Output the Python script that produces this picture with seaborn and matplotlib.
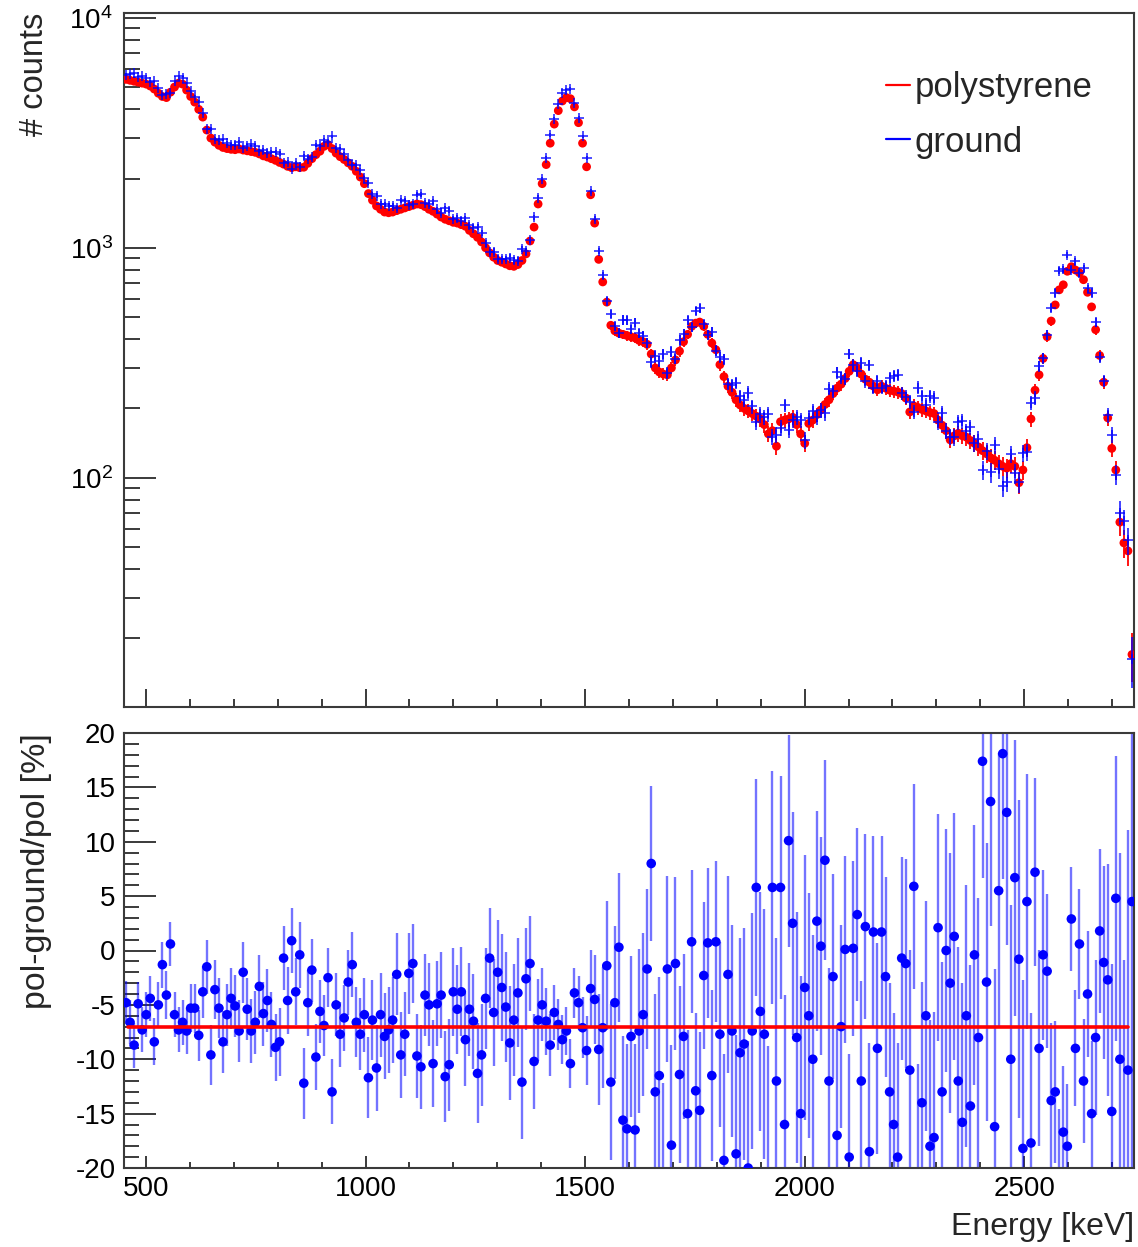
import numpy as np
import matplotlib
matplotlib.use("Agg")
import matplotlib.pyplot as plt
from matplotlib.lines import Line2D
from matplotlib.ticker import MultipleLocator, LogLocator, NullFormatter
import seaborn as sns

# Histogram binning of the energy axis (keV)
E_MIN, E_MAX, N_BINS = 450.0, 2750.0, 250

# Polystyrene spectrum: counts per bin (rows of 10 bins, 92 keV each)
polystyrene_counts = [
    5400, 5350, 5300, 5250, 5200, 5150, 5050, 4900, 4700, 4550,
    4500, 4750, 5000, 5200, 5150, 4850, 4550, 4300, 4000, 3700,
    3250, 3000, 2880, 2790, 2730, 2700, 2680, 2670, 2690, 2660,
    2640, 2620, 2600, 2560, 2510, 2480, 2440, 2400, 2350, 2310,
    2260, 2230, 2250, 2230, 2240, 2330, 2440, 2540, 2630, 2760,
    2810, 2700, 2580, 2490, 2420, 2340, 2260, 2150, 2030, 1900,
    1720, 1610, 1520, 1470, 1430, 1420, 1430, 1450, 1470, 1490,
    1510, 1530, 1550, 1540, 1510, 1470, 1440, 1400, 1360, 1330,
    1310, 1290, 1280, 1260, 1240, 1190, 1150, 1110, 1060, 1000,
    950, 910, 880, 865, 850, 835, 830, 845, 880, 940,
    1070, 1230, 1550, 1900, 2300, 2850, 3450, 3950, 4350, 4500,
    4450, 4100, 3500, 2850, 2250, 1700, 1280, 890, 710, 580,
    460, 435, 425, 420, 415, 410, 405, 395, 390, 380,
    345, 300, 288, 282, 280, 300, 325, 355, 390, 420,
    455, 470, 475, 455, 420, 385, 360, 310, 275, 250,
    235, 218, 207, 200, 195, 190, 185, 180, 170, 155,
    160, 137, 175, 178, 180, 183, 170, 155, 141, 172,
    178, 188, 197, 208, 218, 232, 245, 255, 270, 290,
    310, 300, 282, 268, 260, 250, 241, 250, 245, 240,
    238, 236, 232, 222, 193, 205, 202, 198, 195, 192,
    190, 178, 169, 160, 146, 152, 156, 152, 150, 145,
    141, 136, 131, 127, 122, 119, 115, 112, 110, 115,
    112, 95, 108, 135, 180, 240, 280, 330, 410, 480,
    564, 656, 690, 790, 827, 800, 778, 726, 640, 553,
    440, 340, 260, 182, 134, 108, 64, 52, 48, 17,
]

# Relative difference (pol - ground) / pol in percent, per bin
residual_pct = [
    -4.8, -6.6, -8.7, -4.9, -7.3, -5.9, -4.4, -8.4, -5.0, -1.3,
    -4.1, 0.6, -5.9, -7.3, -6.6, -7.4, -5.3, -5.3, -7.8, -3.8,
    -1.5, -9.6, -3.6, -5.3, -8.4, -5.9, -4.4, -5.1, -7.4, -2.0,
    -5.4, -7.4, -6.6, -3.3, -5.8, -4.6, -6.8, -8.9, -8.4, -0.7,
    -4.6, 0.9, -3.8, -0.4, -12.2, -4.8, -1.8, -9.8, -5.6, -6.9,
    -2.5, -13.0, -5.0, -7.7, -6.2, -2.9, -1.3, -6.6, -7.7, -5.9,
    -11.7, -6.4, -10.8, -5.9, -7.9, -7.3, -6.4, -2.2, -9.6, -7.7,
    -2.1, -1.2, -9.7, -10.7, -4.1, -5.0, -10.4, -4.9, -4.1, -11.6,
    -10.5, -3.8, -5.4, -3.8, -8.2, -5.4, -6.5, -11.3, -9.6, -4.4,
    -0.7, -5.7, -2.0, -3.4, -5.2, -8.5, -6.4, -3.9, -12.1, -2.6,
    -1.2, -10.2, -6.4, -5.0, -6.5, -8.7, -5.7, -6.8, -8.2, -7.4,
    -10.4, -3.9, -4.8, -7.1, -9.2, -3.5, -4.5, -9.1, -7.1, -1.4,
    -12.1, -4.8, 0.3, -15.6, -16.4, -7.9, -16.5, -7.4, -5.9, -1.7,
    8.0, -13.0, -11.5, -22.0, -1.7, -17.9, -1.2, -11.4, -7.9, -15.0,
    0.8, -12.9, -14.7, -2.3, 0.7, -11.5, 0.8, -7.7, -19.3, -2.2,
    -7.4, -18.7, -9.4, -8.6, -20.0, -7.4, 5.8, -5.6, -7.7, -22.0,
    5.8, -12.0, 5.8, -16.0, 10.1, 2.5, -8.0, -15.0, -3.4, -6.0,
    -10.0, 2.7, 0.4, 8.3, -12.0, -2.4, -17.0, -7.0, 0.1, -19.0,
    0.2, 3.3, -12.0, 2.2, -18.5, 1.7, -9.0, 1.7, -2.4, -13.0,
    -16.0, -19.0, -0.7, -1.2, -11.0, 5.9, -22.0, -14.0, -6.0, -18.0,
    -17.2, 2.1, -13.0, 0.0, -3.0, 1.3, -12.0, -15.8, -6.0, -14.3,
    -0.4, -8.0, 17.4, -2.9, 13.7, -16.2, 5.5, 18.1, 12.7, -10.0,
    6.7, -0.8, -18.2, 4.5, -17.7, 7.2, -9.0, -0.4, -1.9, -13.8,
    -13.0, -21.0, -16.7, -18.0, 2.9, -9.0, 0.6, -12.0, -4.0, -15.0,
    -8.0, 1.8, -1.1, -2.7, -14.8, 4.8, -10.0, -24.0, -11.0, 4.5,
]

# Constant fit to the relative difference
FIT_LEVEL = -7.0
FIT_RANGE = (460.0, 2737.0)

series_labels = ["polystyrene", "ground"]
x_label = "Energy [keV]"
y_label_top = "# counts"
y_label_bottom = "pol-ground/pol [%]"

# ---------------------------------------------------------------------------
edges = np.linspace(E_MIN, E_MAX, N_BINS + 1)
energy = 0.5 * (edges[:-1] + edges[1:])
pol = np.asarray(polystyrene_counts, dtype=float)
res = np.asarray(residual_pct, dtype=float)
ground = pol * (1.0 - res / 100.0)
pol_err = np.sqrt(pol)
ground_err = np.sqrt(ground)
res_err = 100.0 * (ground / pol) * np.sqrt(1.0 / ground + 1.0 / pol)

sns.set_theme(style="ticks")
plt.rcParams["font.family"] = ["Liberation Sans", "DejaVu Sans"]
plt.rcParams["mathtext.fontset"] = "custom"
plt.rcParams["mathtext.rm"] = "Liberation Sans"
plt.rcParams["mathtext.it"] = "Liberation Sans:italic"
plt.rcParams["axes.unicode_minus"] = False

W, H = 1138, 1247
fig = plt.figure(figsize=(W / 100, H / 100), dpi=100)
fig.patch.set_facecolor("white")

ax1 = fig.add_axes([124 / W, 1 - 707 / H, 1010 / W, 694 / H])
ax2 = fig.add_axes([124 / W, 1 - 1168 / H, 1010 / W, 435 / H])

RED = (1.0, 0.0, 0.0)
BLUE = (0.0, 0.0, 1.0)
AX_COLOR = "#3a3a3a"

# --- spectra -----------------------------------------------------------------
ax1.errorbar(energy, pol, yerr=pol_err, fmt="none", ecolor=RED, elinewidth=1.3,
             zorder=2)
sns.scatterplot(x=energy, y=pol, ax=ax1, color=RED, marker="o", s=40,
                edgecolor="none", zorder=3, legend=False)
ax1.errorbar(energy, ground, yerr=ground_err, fmt="none", ecolor=BLUE,
             elinewidth=1.3, alpha=0.8, zorder=4)
sns.scatterplot(x=energy, y=ground, ax=ax1, color=BLUE, marker="+", s=55,
                linewidth=1.4, alpha=0.7, zorder=5, legend=False)

ax1.set_yscale("log")
ax1.set_xlim(E_MIN, E_MAX)
ax1.set_ylim(10.05, 10500)
ax1.yaxis.set_major_locator(LogLocator(base=10, numticks=10))
ax1.yaxis.set_minor_locator(LogLocator(base=10, subs=np.arange(2, 10), numticks=20))
ax1.yaxis.set_minor_formatter(NullFormatter())
ax1.xaxis.set_major_locator(MultipleLocator(500))
ax1.xaxis.set_minor_locator(MultipleLocator(100))
ax1.tick_params(axis="x", which="both", labelbottom=False)
ax1.tick_params(axis="x", which="major", length=13, width=1.4)
ax1.tick_params(axis="x", which="minor", length=6, width=1.4)
ax1.tick_params(axis="y", which="major", length=23, width=1.4, pad=8)
ax1.tick_params(axis="y", which="minor", length=11.5, width=1.4)
ax1.set_xlabel("")
ax1.set_ylabel(y_label_top, loc="top", fontsize=23.5)
ax1.yaxis.set_label_coords(-0.073, 1.0)

handles = [Line2D([], [], color=RED, lw=1.6), Line2D([], [], color=BLUE, lw=1.6)]
fig.legend(handles, series_labels, loc="upper left",
           bbox_to_anchor=(886 / W, 1 - 71 / H), frameon=False, fontsize=25,
           handlelength=0.7, handletextpad=0.12, labelspacing=0.62,
           borderpad=0, borderaxespad=0)

# --- relative difference ------------------------------------------------------
ax2.errorbar(energy, res, yerr=res_err, fmt="none", ecolor=BLUE, elinewidth=1.7,
             alpha=0.55, zorder=2)
sns.scatterplot(x=energy, y=res, ax=ax2, color=BLUE, marker="o", s=48,
                edgecolor="none", zorder=3, legend=False)
sns.lineplot(x=list(FIT_RANGE), y=[FIT_LEVEL, FIT_LEVEL], ax=ax2, color=RED,
             lw=2.6, zorder=4, legend=False)

ax2.set_xlim(E_MIN, E_MAX)
ax2.set_ylim(-20, 20)
ax2.xaxis.set_major_locator(MultipleLocator(500))
ax2.xaxis.set_minor_locator(MultipleLocator(100))
ax2.yaxis.set_major_locator(MultipleLocator(5))
ax2.yaxis.set_minor_locator(MultipleLocator(1))
ax2.tick_params(axis="x", which="major", length=8.5, width=1.4, pad=6)
ax2.tick_params(axis="x", which="minor", length=4.5, width=1.4)
ax2.tick_params(axis="y", which="major", length=23, width=1.4, pad=6)
ax2.tick_params(axis="y", which="minor", length=11, width=1.4)
ax2.set_xlabel(x_label, loc="right", fontsize=23)
ax2.xaxis.set_label_coords(1.0, -0.1)
ax2.set_ylabel(y_label_bottom, loc="top", fontsize=24.5)
ax2.yaxis.set_label_coords(-0.071, 1.0)

for ax in (ax1, ax2):
    ax.set_facecolor("white")
    ax.grid(False)
    ax.tick_params(which="both", direction="in", colors=AX_COLOR,
                   labelcolor="black", labelsize=20, top=False, right=False)
    for side in ("left", "right", "top", "bottom"):
        ax.spines[side].set_visible(True)
        ax.spines[side].set_color(AX_COLOR)
        ax.spines[side].set_linewidth(1.5)

fig.savefig("out.png", dpi=100, facecolor="white")
